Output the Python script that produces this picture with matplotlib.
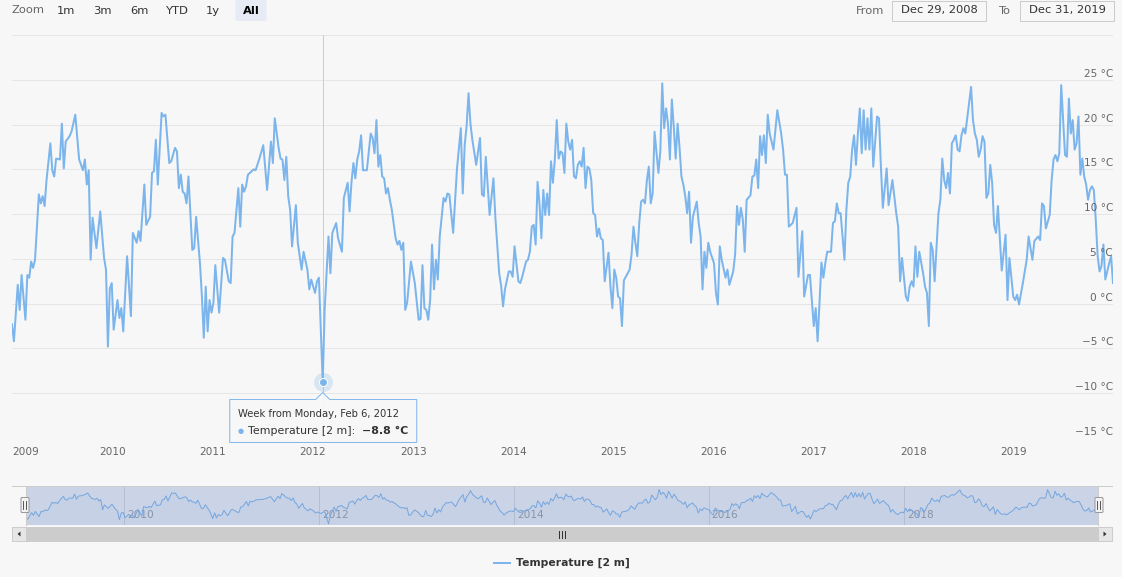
import datetime as dt
import matplotlib
matplotlib.use('Agg')
import matplotlib.pyplot as plt
import matplotlib.dates as mdates
import matplotlib.transforms as mtrans
from matplotlib.patches import Rectangle, Polygon, FancyBboxPatch

plt.rcParams['font.family'] = ['DejaVu Sans']

# ---------------- data (weekly mean 2 m temperature, weeks since Mon Dec 29, 2008)
start_monday = dt.date(2008, 12, 29)

weeks_a = [0, 1, 3, 4, 5, 7, 8, 9, 10, 11, 12, 14, 15, 16, 17, 18, 20, 21, 22, 23, 25, 26, 27, 28, 30, 31,
           33, 35, 37, 38, 39, 40, 41, 42, 44, 46, 48, 49, 50, 51, 52, 53, 55, 56, 57, 58, 60]
temps_a = [-2.3, -4.2, 2.1, -0.7, 3.2, -1.8, 3.2, 2.9, 4.7, 4.0, 4.9, 12.2, 11.2, 12.0, 10.9, 13.8, 17.9, 14.9,
           14.2, 16.2, 16.1, 20.1, 15.1, 18.1, 18.7, 19.2, 21.1, 16.1, 14.9, 16.1, 13.3, 14.9, 4.9, 9.6, 6.2,
           10.3, 5.1, 3.8, -4.8, 1.7, 2.3, -2.9, 0.4, -1.6, -0.5, -3.1, 5.3]

weeks_b = [62, 63, 65, 66, 67, 69, 70, 72, 73, 74, 75, 76, 78, 79, 80, 82, 83, 85, 86, 87, 88, 89, 90, 91, 92,
           93, 94, 95, 96, 98, 99, 100, 101, 102, 103, 104, 105, 106, 108, 110, 111, 113, 114, 115, 116, 118,
           119, 120, 121, 122, 123, 124, 126]
temps_b = [-1.4, 7.9, 6.8, 8.1, 7.0, 13.3, 8.8, 9.7, 14.6, 14.8, 18.3, 13.3, 21.3, 20.9, 21.1, 15.7, 15.9, 17.4,
           17.0, 12.9, 14.4, 12.5, 12.3, 11.2, 14.2, 10.1, 6.0, 6.2, 9.7, 4.5, 0.8, -3.8, 1.9, -3.1, 0.4, -1.0,
           0.1, 4.3, -1.0, 5.1, 4.9, 2.5, 2.3, 7.5, 7.9, 12.9, 8.6, 13.3, 12.5, 13.1, 14.4, 14.6, 15.0]

weeks_c = [127, 129, 131, 133, 135, 136, 137, 139, 140, 141, 142, 143, 144, 145, 146, 148, 149, 151, 152, 154,
           155, 156, 158, 159, 160, 161, 162, 163, 165, 166, 167, 169, 170, 172, 173, 175, 176, 177, 178, 179,
           180, 181, 182, 183, 185, 187, 188, 189, 190]
temps_c = [14.9, 16.2, 17.7, 12.7, 18.1, 15.7, 20.7, 17.4, 16.2, 16.1, 13.8, 16.4, 12.0, 10.5, 6.4, 11.0, 6.8,
           3.8, 5.8, 3.8, 1.6, 2.7, 1.2, 2.5, 2.9, -2.9, -8.8, -0.7, 7.5, 3.4, 7.9, 9.0, 7.3, 5.8, 11.8, 13.5,
           10.3, 13.6, 15.7, 14.0, 16.1, 17.0, 18.8, 14.9, 14.9, 19.0, 18.5, 16.8, 20.5]

weeks_d = [191, 192, 193, 194, 195, 196, 197, 198, 200, 201, 202, 203, 204, 205, 206, 208, 210, 212, 213, 214,
           215, 216, 217, 218, 219, 220, 221, 222, 223, 225, 226, 227, 228, 230, 232, 234, 235, 236, 237, 238,
           239, 240, 242, 244, 245, 246, 247, 249, 251, 252]
temps_d = [15.3, 16.6, 14.2, 14.0, 12.3, 12.9, 11.6, 10.5, 7.3, 6.6, 7.0, 6.0, 6.8, -0.7, 0.1, 4.7, 2.3, -1.8,
           -1.7, 4.3, -0.5, -0.7, -1.8, 0.4, 6.6, 1.6, 4.9, 2.7, 7.5, 11.8, 11.4, 12.3, 12.2, 7.9, 15.1, 19.6,
           12.3, 17.7, 19.8, 23.5, 20.1, 18.3, 15.5, 18.5, 12.2, 12.0, 16.4, 9.9, 14.0, 9.6]

weeks_e = [254, 255, 256, 257, 259, 260, 261, 262, 264, 265, 266, 268, 269, 270, 271, 272, 273, 274, 275, 276,
           277, 278, 279, 280, 281, 282, 283, 284, 285, 286, 287, 288, 289, 290, 291, 292, 293, 294, 295, 296,
           297, 298, 299, 300, 301, 302, 303, 304, 305, 306, 307, 308, 309, 311, 312, 313, 314, 315, 316, 317,
           318]
temps_e = [3.4, 2.0, -0.3, 1.6, 3.6, 3.6, 3.0, 6.4, 2.5, 2.3, 3.0, 4.7, 4.9, 5.8, 8.6, 8.8, 6.6, 13.6, 11.2,
           7.3, 12.7, 9.9, 12.3, 9.9, 15.9, 13.5, 16.1, 20.5, 16.2, 17.0, 16.8, 14.6, 20.1, 18.1, 17.2, 18.3,
           14.2, 14.0, 15.5, 15.9, 15.3, 17.4, 12.9, 15.3, 15.1, 13.8, 10.1, 9.9, 7.5, 8.4, 7.3, 7.1, 2.5, 5.7,
           1.9, -0.5, 3.8, 2.9, 0.8, 0.6, -2.5]

weeks_f = [319, 320, 322, 323, 324, 325, 326, 327, 328, 329, 330, 331, 332, 333, 334, 335, 337, 338, 339, 340,
           341, 342, 343, 344, 345, 346, 347, 348, 349, 350, 351, 352, 353, 354, 355, 357, 358, 359, 360, 361,
           362, 363, 364, 366, 367, 368, 369, 370, 372, 373, 374, 376, 377, 378, 379, 380, 381, 382, 383]
temps_f = [2.6, 3.0, 3.8, 5.5, 8.6, 6.8, 5.3, 9.0, 11.4, 11.6, 11.2, 13.8, 15.3, 11.2, 12.3, 19.2, 14.6, 17.0,
           24.6, 19.6, 21.8, 20.1, 16.1, 22.8, 19.8, 16.2, 20.1, 17.5, 14.2, 13.3, 12.0, 10.1, 12.5, 6.8, 9.7,
           11.4, 9.0, 7.5, 1.6, 5.8, 4.0, 6.8, 5.8, 4.5, 1.2, -0.1, 6.4, 4.9, 2.9, 3.8, 2.1, 3.6, 5.5, 10.9,
           8.8, 10.7, 9.4, 5.8, 11.6]

weeks_g = [385, 386, 387, 388, 389, 390, 391, 392, 393, 394, 395, 397, 399, 401, 402, 403, 404, 405, 406, 407,
           409, 410, 412, 413, 415, 416, 417, 418, 419, 420, 422, 423, 424, 425, 427, 428, 429, 430, 431, 432,
           434, 435, 436, 437, 438, 439, 440, 441, 442, 443, 444, 445, 446, 447, 448, 449]
temps_g = [12.1, 14.2, 14.3, 16.1, 12.9, 18.7, 16.6, 18.8, 15.7, 21.1, 19.0, 17.2, 21.6, 19.0, 17.2, 14.4,
           14.4, 8.6, 8.8, 9.0, 10.7, 3.0, 8.1, 0.8, 3.2, 3.2, 0.4, -2.5, -0.5, -4.2, 4.6, 2.9, 4.5, 5.8, 5.8,
           9.0, 9.2, 11.2, 10.1, 10.1, 4.9, 10.5, 13.5, 14.2, 17.2, 18.8, 15.5, 19.0, 21.8, 16.8, 21.6, 17.2,
           20.7, 17.2, 21.8, 15.3]

weeks_h = [451, 452, 453, 454, 456, 457, 459, 461, 462, 463, 464, 466, 467, 468, 469, 470, 471, 472, 473, 475,
           476, 477, 478, 479, 480, 481, 483, 484, 485, 486, 487, 488, 489, 490, 491, 492, 493, 494, 495, 496,
           497, 498, 500, 501, 502, 503, 504, 505, 506, 507, 508, 509, 510, 511, 512, 513, 514]
temps_h = [20.9, 20.7, 15.3, 10.7, 15.1, 11.0, 13.8, 10.1, 8.6, 2.5, 5.1, 0.8, 0.3, 1.9, 2.5, 1.9, 6.4, 3.0,
           5.8, 3.4, 1.9, 1.2, -2.5, 6.8, 6.0, 2.5, 10.1, 11.6, 16.2, 13.8, 12.9, 14.6, 12.3, 17.9, 18.3, 18.8,
           17.2, 17.0, 18.8, 19.6, 19.0, 20.7, 24.2, 20.5, 19.0, 18.3, 16.4, 17.2, 18.7, 18.1, 11.8, 12.3, 15.5,
           13.5, 8.8, 7.9, 10.9]

weeks_i = [516, 518, 519, 520, 522, 523, 524, 525, 527, 529, 530, 532, 533, 535, 536, 537, 538, 539, 541, 542,
           543, 544, 545, 546, 547, 549, 550, 551, 552, 553, 554, 555, 556, 557, 558, 559, 560, 561, 562, 563,
           564, 565, 566, 567, 568, 569, 570, 572, 573, 574]
temps_i = [3.7, 7.7, 0.4, 5.1, 0.8, 0.4, 1.0, -0.1, 2.3, 4.9, 7.5, 4.9, 7.0, 7.5, 7.1, 11.2, 10.9, 8.4, 9.9,
           13.8, 16.1, 16.6, 15.9, 16.8, 24.4, 16.6, 16.4, 22.9, 19.0, 20.5, 17.2, 17.9, 20.9, 14.4, 16.2, 14.2,
           13.3, 11.6, 12.7, 13.1, 12.7, 9.4, 5.3, 3.6, 4.2, 6.6, 2.7, 4.5, 5.3, 2.3]

week_index = weeks_a + weeks_b + weeks_c + weeks_d + weeks_e + weeks_f + weeks_g + weeks_h + weeks_i
temperature = temps_a + temps_b + temps_c + temps_d + temps_e + temps_f + temps_g + temps_h + temps_i

series_name = 'Temperature [2 m]'
y_tick_values = [-15, -10, -5, 0, 5, 10, 15, 20, 25]
y_top = 30
x_years = list(range(2009, 2020))
nav_years = [2010, 2012, 2014, 2016, 2018]
zoom_buttons = ['1m', '3m', '6m', 'YTD', '1y', 'All']
selected_button = 'All'
range_from = 'Dec 29, 2008'
range_to = 'Dec 31, 2019'
tooltip_week = 162

# ---------------- styling
BG = '#f7f7f7'
SERIES = '#7cb5ec'
GRID = '#e6e6e6'
W, H = 1122, 577
PT = 0.72  # points per pixel at 100 dpi

dates = [start_monday + dt.timedelta(weeks=w) for w in week_index]
xnum = mdates.date2num(dates)

fig = plt.figure(figsize=(W / 100, H / 100), dpi=100, facecolor=BG)


def px_axes(l, t, r, b, z=1):
    a = fig.add_axes([l / W, 1 - b / H, (r - l) / W, (b - t) / H], zorder=z)
    a.set_facecolor('none')
    for s in a.spines.values():
        s.set_visible(False)
    a.set_xticks([])
    a.set_yticks([])
    return a


def minus(v):
    return ('\u2212' + str(abs(v))) if v < 0 else str(v)


# ---------------- main plot
ax = px_axes(12, 35, 1113, 438)
ax.set_xlim(xnum[0], xnum[-1])
ax.set_ylim(y_tick_values[0], y_top)
for v in y_tick_values[1:] + [y_top]:
    ax.axhline(v, color=GRID, lw=PT, zorder=1)
ax.axhline(y_tick_values[0], color='#ccd6eb', lw=PT, zorder=2)
ax.plot(xnum, temperature, color=SERIES, lw=2 * PT, zorder=3, solid_joinstyle='round')

lab_tr = mtrans.offset_copy(ax.get_yaxis_transform(), fig=fig, x=0, y=6, units='dots')
for v in y_tick_values:
    ax.text(1.0, v, f'{minus(v)} \u00b0C', transform=lab_tr, ha='right', va='center',
            fontsize=10.5 * PT, color='#666666', zorder=4)

# crosshair + hovered point
tip_i = week_index.index(tooltip_week)
tip_x, tip_y = xnum[tip_i], temperature[tip_i]
ax.axvline(tip_x, color='#cccccc', lw=PT, zorder=2)
ax.scatter([tip_x], [tip_y], s=(19 * PT) ** 2, color=SERIES, alpha=0.25, lw=0, zorder=5, clip_on=False)
ax.scatter([tip_x], [tip_y], s=(8 * PT) ** 2, color=SERIES, edgecolor='white', lw=PT, zorder=6,
           clip_on=False)

# ---------------- overlay in pixel coordinates
ov = fig.add_axes([0, 0, 1, 1], zorder=20)
ov.set_xlim(0, W)
ov.set_ylim(H, 0)
ov.axis('off')


def to_px(a, x, y):
    dx, dy = a.transData.transform((x, y))
    return dx, H - dy


def box(l, t, r, b, fc, ec='none', lw=1, rnd=0, z=1):
    if rnd:
        p = FancyBboxPatch((l, t), r - l, b - t, boxstyle=f'round,pad=0,rounding_size={rnd}',
                           fc=fc, ec=ec, lw=lw * PT, zorder=z)
    else:
        p = Rectangle((l, t), r - l, b - t, fc=fc, ec=ec, lw=lw * PT, zorder=z)
    ov.add_patch(p)


# x axis year labels
for yr in x_years:
    xp, _ = to_px(ax, mdates.date2num(dt.date(yr, 1, 1)), 0)
    if yr == x_years[0]:
        ov.text(12, 452, str(yr), ha='left', va='center', fontsize=10.5 * PT, color='#666666')
    else:
        ov.text(xp, 452, str(yr), ha='center', va='center', fontsize=10.5 * PT, color='#666666')

# tooltip
px_, py_ = to_px(ax, tip_x, tip_y)
tl, tr_, tt, tb = px_ - 93, px_ + 94, py_ + 17, py_ + 60
poly = [(tl, tt), (px_ - 7, tt), (px_, tt - 7), (px_ + 7, tt), (tr_, tt), (tr_, tb), (tl, tb)]
ov.add_patch(Polygon(poly, closed=True, fc=BG, ec=SERIES, lw=PT, alpha=0.95, zorder=5))
tip_date = dates[tip_i]
header = f"Week from Monday, {tip_date.strftime('%b')} {tip_date.day}, {tip_date.year}"
ov.text(tl + 8, py_ + 32, header, fontsize=10 * PT, color='#333333', va='center', zorder=6)
ov.text(tl + 8, py_ + 49, '\u25cf', fontsize=7 * PT, color=SERIES, va='center', zorder=6)
ov.text(tl + 18, py_ + 49, f'{series_name}: ', fontsize=11 * PT, color='#333333', va='center', zorder=6)
ov.text(tl + 132, py_ + 49, f'{minus(tip_y)} \u00b0C', fontsize=11 * PT, color='#333333',
        fontweight='bold', va='center', zorder=6)

# range selector
ov.text(12, 10, 'Zoom', fontsize=11.5 * PT, color='#666666', va='center', ha='left')
btn_centers = [66, 102, 139, 177, 213, 251]
for lab, cx in zip(zoom_buttons, btn_centers):
    sel = lab == selected_button
    if sel:
        box(cx - 15.5, 0, cx + 15.5, 21, '#e6ebf5', rnd=2)
    ov.text(cx, 10.5, lab, fontsize=11.5 * PT, color='#000000' if sel else '#333333',
            fontweight='bold' if sel else 'normal', ha='center', va='center', zorder=3)

ov.text(870, 10.5, 'From', fontsize=11.5 * PT, color='#666666', ha='center', va='center')
box(892, 0.5, 986, 20.5, BG, '#cccccc')
ov.text(939, 10.5, range_from, fontsize=11.5 * PT, color='#333333', ha='center', va='center')
ov.text(1005, 10.5, 'To', fontsize=11.5 * PT, color='#666666', ha='center', va='center')
box(1020.5, 0.5, 1114.5, 20.5, BG, '#cccccc')
ov.text(1067.5, 10.5, range_to, fontsize=11.5 * PT, color='#333333', ha='center', va='center')

# ---------------- navigator
NL, NT, NR, NB = 26, 486, 1098, 525
nav = px_axes(NL, NT, NR, NB, z=2)
nav.set_xlim(xnum[0], xnum[-1])
nav.set_ylim(-10, 28)
for yr in nav_years:
    gx = mdates.date2num(dt.date(yr, 1, 1))
    nav.axvline(gx, color='#d8d8d8', lw=PT, zorder=1)
    nav.text(gx, 0, str(yr), transform=mtrans.offset_copy(nav.get_xaxis_transform(), fig=fig, x=3, y=5,
                                                          units='dots'),
             ha='left', va='bottom', fontsize=10.5 * PT, color='#999999', zorder=2)
nav.fill_between(xnum, temperature, -10, color=SERIES, alpha=0.05, lw=0, zorder=2)
nav.plot(xnum, temperature, color=SERIES, lw=1 * PT, zorder=3)
nav.axvspan(xnum[0], xnum[-1], color=(102 / 255, 133 / 255, 194 / 255), alpha=0.3, lw=0, zorder=4)

# navigator outline + handles
ov.plot([12, 1112], [NT, NT], color='#cccccc', lw=PT, zorder=3)
ov.plot([NL, NL], [NT, NB], color='#cccccc', lw=PT, zorder=3)
ov.plot([NR, NR], [NT, NB], color='#cccccc', lw=PT, zorder=3)
for hx in (NL - 1, NR + 1):
    box(hx - 4, 497.5, hx + 4, 512.5, '#f2f2f2', '#999999', rnd=1, z=4)
    ov.plot([hx - 1.5, hx - 1.5], [501, 509], color='#333333', lw=PT * 0.8, zorder=5)
    ov.plot([hx + 1.5, hx + 1.5], [501, 509], color='#333333', lw=PT * 0.8, zorder=5)

# scrollbar
box(12, 527, 1112, 541, '#f2f2f2', '#f2f2f2')
box(NL, 527, NR, 541, '#cccccc', '#cccccc', z=2)
box(12, 527, NL, 541, '#e6e6e6', '#cccccc', z=2)
box(NR, 527, 1112, 541, '#e6e6e6', '#cccccc', z=2)
ov.add_patch(Polygon([(17.5, 534), (20.5, 531.5), (20.5, 536.5)], closed=True, fc='#333333', ec='none',
                     zorder=3))
ov.add_patch(Polygon([(1106.5, 534), (1103.5, 531.5), (1103.5, 536.5)], closed=True, fc='#333333',
                     ec='none', zorder=3))
mid = (NL + NR) / 2
for dx in (-3, 0, 3):
    ov.plot([mid + dx, mid + dx], [530.5, 537.5], color='#333333', lw=PT, zorder=3)

# legend
ov.plot([494, 510], [563, 563], color=SERIES, lw=2 * PT)
ov.text(516, 563, series_name, fontsize=10.7 * PT, fontweight='bold', color='#333333', ha='left',
        va='center')

fig.savefig('out.png', dpi=100, facecolor=BG)
